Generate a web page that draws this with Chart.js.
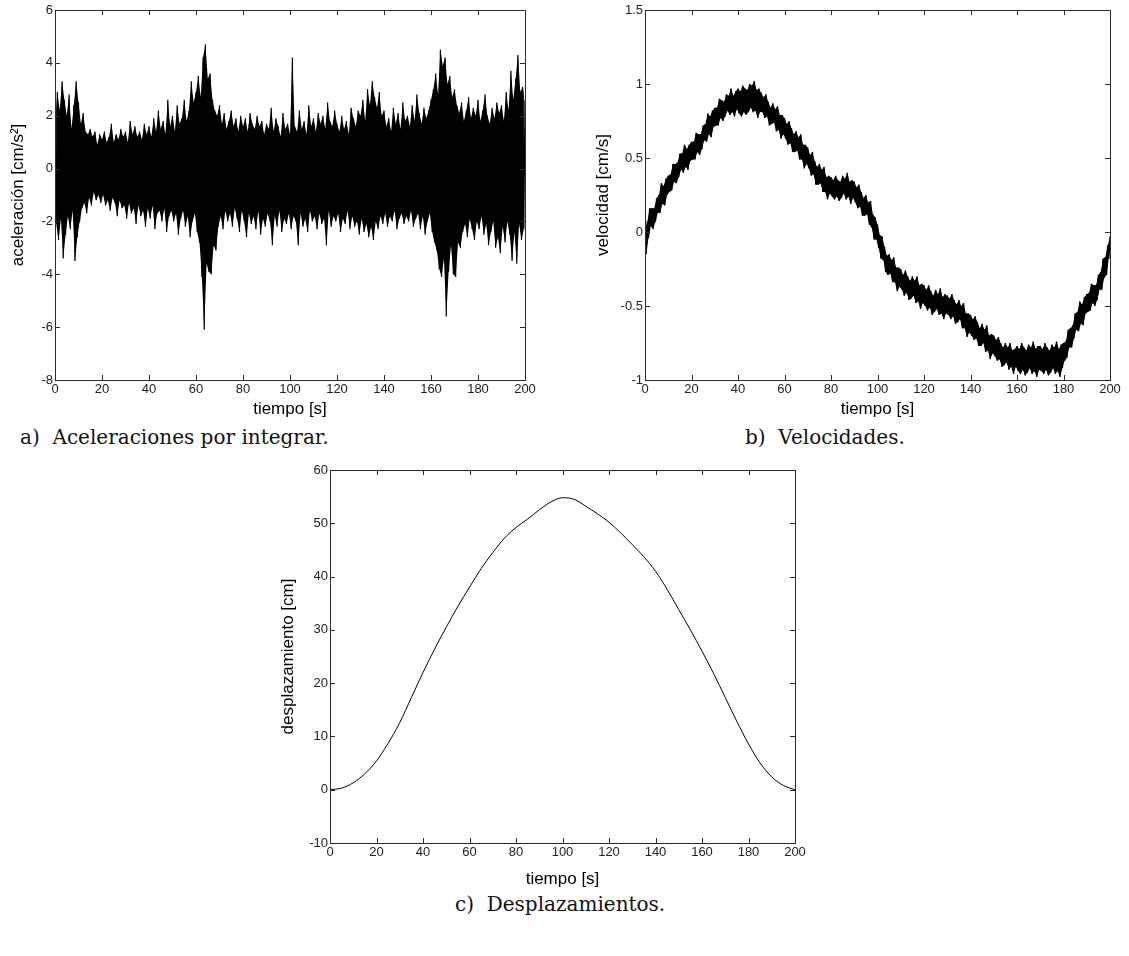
<!DOCTYPE html>
<html lang="es">
<head>
<meta charset="utf-8">
<title>Integración de aceleraciones</title>
<script src="https://cdn.jsdelivr.net/npm/chart.js@4/dist/chart.umd.min.js"></script>
<style>
  body { margin: 0; background: #fff; width: 1129px; height: 956px; position: relative; overflow: hidden; }
  canvas { position: absolute; }
  .pie { position: absolute; font-family: "DejaVu Serif", serif; font-size: 20px; color: #111; white-space: pre; }
</style>
</head>
<body>
<canvas id="graficaAcel" width="540" height="420" style="left:0;top:0"></canvas>
<canvas id="graficaVel" width="544" height="420" style="left:585px;top:0"></canvas>
<canvas id="graficaDesp" width="545" height="430" style="left:270px;top:460px"></canvas>
<div class="pie" style="left:20px;top:425px">a)  Aceleraciones por integrar.</div>
<div class="pie" style="left:745px;top:425px">b)  Velocidades.</div>
<div class="pie" style="left:455px;top:892px">c)  Desplazamientos.</div>
<script>
// aceleración: picos en t = 0,1,...,200 s y valles en t = 0.5,1.5,...,199.5 s [cm/s2]
const accPicos = [
  1.8, 2.9, 2.2, 3.3, 2.6, 2.0, 2.8, 1.5, 2.4, 3.3,
  2.5, 1.7, 2.1, 1.4, 1.3, 1.5, 1.2, 1.4, 0.9, 1.3,
  1.1, 1.4, 1.0, 1.2, 1.7, 1.0, 1.3, 1.1, 1.5, 1.2,
  1.4, 1.0, 1.8, 1.3, 1.6, 1.2, 1.4, 1.1, 1.7, 1.3,
  1.6, 1.2, 1.9, 1.4, 2.2, 1.5, 1.8, 1.3, 2.6, 1.6,
  2.0, 1.4, 2.4, 1.7, 1.9, 2.6, 1.8, 2.2, 3.3, 2.5,
  2.9, 3.5, 2.7, 4.2, 4.7, 3.4, 3.6, 2.6, 2.2, 2.0,
  2.4, 1.7, 2.1, 1.5, 1.8, 2.2, 1.6, 1.9, 1.4, 2.0,
  1.6, 1.9, 1.4, 2.1, 1.7, 1.5, 2.0, 1.6, 1.8, 1.3,
  1.7, 1.5, 2.3, 1.4, 1.9, 1.6, 1.2, 2.1, 1.5, 1.7,
  1.3, 4.2, 1.6, 1.4, 2.2, 1.5, 1.8, 1.3, 2.4, 1.6,
  1.9, 1.4, 2.1, 1.7, 2.0, 1.5, 2.5, 1.8, 1.6, 2.2,
  1.7, 1.4, 2.0, 1.5, 1.8, 1.3, 2.3, 1.9, 1.6, 2.2,
  2.0, 2.6, 1.8, 3.0, 2.4, 3.3, 2.7, 2.3, 2.9, 2.0,
  2.2, 1.6, 1.9, 1.4, 2.3, 1.7, 2.1, 1.5, 2.5, 1.8,
  2.0, 1.6, 2.4, 1.8, 2.8, 2.1, 1.7, 2.3, 1.9, 2.2,
  2.6, 3.0, 3.6, 2.8, 4.5, 3.9, 4.2, 3.2, 3.5, 2.7,
  3.0, 2.4, 2.1, 2.5, 1.8, 2.2, 2.7, 1.9, 2.3, 2.0,
  2.6, 1.8, 2.2, 2.8, 2.0, 1.7, 2.3, 1.9, 2.5, 2.1,
  2.4, 1.8, 2.9, 2.2, 3.7, 2.6, 3.4, 4.3, 2.9, 3.1,
  2.6
];
const accValles = [
  -2.1, -2.7, -1.9, -3.4, -2.5, -1.8, -2.3, -1.6, -3.5, -2.6,
  -2.0, -1.5, -1.3, -1.7, -1.1, -1.4, -0.9, -1.2, -1.0, -1.3,
  -1.0, -1.4, -1.2, -1.6, -1.1, -1.3, -1.8, -1.2, -1.5, -1.4,
  -1.9, -1.3, -1.7, -1.5, -2.1, -1.4, -1.8, -1.6, -2.2, -1.5,
  -1.9, -1.4, -2.3, -1.7, -1.6, -2.0, -1.5, -2.4, -1.8, -1.6,
  -2.0, -1.7, -2.5, -1.9, -1.6, -2.2, -1.8, -2.6, -2.0, -1.7,
  -2.4, -2.8, -4.1, -6.1, -3.6, -3.9, -4.0, -2.9, -3.1, -2.2,
  -1.8, -2.3, -1.6, -2.0, -1.7, -2.2, -1.5, -1.9, -2.4, -1.6,
  -2.0, -2.6, -1.7, -2.1, -1.8, -2.3, -1.6, -2.5, -1.9, -2.2,
  -1.7, -2.0, -2.9, -1.8, -2.2, -1.6, -2.4, -1.9, -2.1, -1.7,
  -2.3, -1.8, -2.0, -2.9, -1.7, -2.2, -1.9, -2.4, -1.6, -2.0,
  -1.8, -2.3, -1.7, -2.1, -1.9, -2.9, -1.6, -2.2, -1.8, -2.0,
  -1.7, -2.4, -1.9, -2.1, -1.6, -2.3, -1.8, -2.2, -2.0, -2.5,
  -1.9, -2.4, -2.1, -2.6, -2.2, -2.7, -2.0, -2.3, -1.8, -2.1,
  -1.7, -2.2, -1.8, -2.0, -1.6, -2.3, -1.9, -1.7, -2.1, -1.8,
  -2.0, -1.6, -2.2, -1.9, -1.7, -2.3, -1.8, -2.5, -2.0, -1.7,
  -2.4, -2.8, -3.1, -3.8, -4.1, -3.4, -5.6, -3.9, -2.9, -4.0,
  -4.1, -2.8, -3.0, -2.4, -2.1, -2.6, -1.9, -2.3, -2.7, -2.0,
  -2.3, -1.8, -2.5, -2.1, -2.9, -2.4, -2.0, -3.0, -2.6, -3.2,
  -2.2, -2.8, -2.0, -2.5, -3.5, -2.4, -3.6, -2.1, -2.7, -2.3
];

// velocidad: bordes superior (t entero) e inferior (t + 0.5) de la banda [cm/s]
const velSup = [
  0.02, 0.07, 0.16, 0.16, 0.16, 0.23, 0.25, 0.33, 0.31, 0.36,
  0.38, 0.39, 0.46, 0.46, 0.47, 0.53, 0.53, 0.59, 0.56, 0.59,
  0.61, 0.61, 0.67, 0.66, 0.66, 0.72, 0.73, 0.80, 0.78, 0.82,
  0.84, 0.84, 0.90, 0.89, 0.88, 0.93, 0.92, 0.97, 0.92, 0.95,
  0.97, 0.95, 0.99, 0.97, 0.96, 1.00, 0.99, 1.02, 0.96, 0.97,
  0.94, 0.91, 0.93, 0.88, 0.84, 0.87, 0.83, 0.85, 0.79, 0.79,
  0.77, 0.73, 0.75, 0.70, 0.66, 0.68, 0.64, 0.66, 0.59, 0.59,
  0.57, 0.52, 0.54, 0.48, 0.44, 0.46, 0.42, 0.44, 0.37, 0.38,
  0.37, 0.35, 0.38, 0.35, 0.34, 0.38, 0.36, 0.40, 0.34, 0.35,
  0.34, 0.30, 0.32, 0.27, 0.23, 0.25, 0.20, 0.21, 0.12, 0.10,
  0.05, -0.02, -0.03, -0.10, -0.16, -0.15, -0.19, -0.17, -0.24, -0.24,
  -0.25, -0.29, -0.26, -0.30, -0.33, -0.30, -0.33, -0.30, -0.36, -0.35,
  -0.36, -0.39, -0.36, -0.40, -0.43, -0.39, -0.42, -0.38, -0.44, -0.42,
  -0.43, -0.45, -0.42, -0.46, -0.49, -0.46, -0.50, -0.48, -0.55, -0.55,
  -0.56, -0.59, -0.57, -0.61, -0.65, -0.62, -0.66, -0.63, -0.70, -0.69,
  -0.70, -0.73, -0.71, -0.75, -0.78, -0.75, -0.78, -0.75, -0.80, -0.79,
  -0.77, -0.79, -0.75, -0.78, -0.80, -0.76, -0.78, -0.74, -0.79, -0.77,
  -0.77, -0.79, -0.75, -0.78, -0.80, -0.76, -0.78, -0.74, -0.79, -0.76,
  -0.75, -0.74, -0.66, -0.65, -0.63, -0.55, -0.54, -0.47, -0.49, -0.44,
  -0.42, -0.41, -0.35, -0.36, -0.36, -0.29, -0.27, -0.18, -0.17, -0.09,
  -0.03
];
const velInf = [
  -0.15, -0.04, 0.04, 0.02, 0.07, 0.13, 0.13, 0.19, 0.18, 0.25,
  0.27, 0.28, 0.34, 0.33, 0.37, 0.42, 0.40, 0.44, 0.42, 0.48,
  0.49, 0.49, 0.54, 0.52, 0.56, 0.62, 0.61, 0.66, 0.64, 0.71,
  0.72, 0.72, 0.77, 0.75, 0.78, 0.82, 0.79, 0.81, 0.78, 0.83,
  0.80, 0.78, 0.81, 0.79, 0.81, 0.84, 0.81, 0.82, 0.77, 0.81,
  0.81, 0.77, 0.78, 0.72, 0.73, 0.74, 0.68, 0.69, 0.63, 0.66,
  0.63, 0.59, 0.60, 0.54, 0.54, 0.55, 0.49, 0.49, 0.43, 0.46,
  0.43, 0.38, 0.39, 0.32, 0.32, 0.33, 0.27, 0.27, 0.22, 0.26,
  0.24, 0.22, 0.24, 0.21, 0.23, 0.26, 0.22, 0.24, 0.19, 0.23,
  0.20, 0.16, 0.17, 0.11, 0.11, 0.12, 0.05, 0.03, -0.05, -0.05,
  -0.11, -0.18, -0.19, -0.27, -0.29, -0.28, -0.34, -0.34, -0.40, -0.37,
  -0.39, -0.43, -0.41, -0.46, -0.45, -0.43, -0.48, -0.47, -0.52, -0.48,
  -0.50, -0.53, -0.51, -0.56, -0.54, -0.52, -0.56, -0.55, -0.59, -0.55,
  -0.56, -0.59, -0.57, -0.62, -0.61, -0.59, -0.65, -0.65, -0.71, -0.68,
  -0.70, -0.73, -0.72, -0.77, -0.77, -0.75, -0.81, -0.80, -0.86, -0.82,
  -0.84, -0.87, -0.86, -0.91, -0.90, -0.88, -0.93, -0.91, -0.96, -0.91,
  -0.94, -0.96, -0.93, -0.97, -0.95, -0.92, -0.96, -0.94, -0.98, -0.93,
  -0.94, -0.96, -0.93, -0.97, -0.95, -0.92, -0.96, -0.94, -0.98, -0.92,
  -0.87, -0.85, -0.78, -0.78, -0.72, -0.66, -0.67, -0.62, -0.63, -0.55,
  -0.54, -0.53, -0.48, -0.50, -0.46, -0.39, -0.39, -0.31, -0.29, -0.18
];

// desplazamiento cada 5 s [cm]
const tiempoDesp = [
  0, 5, 10, 15, 20, 25, 30, 35, 40, 45, 50, 55, 60, 65, 70, 75, 80, 85, 90, 95,
  100, 105, 110, 115, 120, 125, 130, 135, 140, 145, 150, 155, 160, 165, 170, 175, 180, 185, 190, 195, 200
];
const desp = [
  0, 0.3, 1.3, 3.0, 5.4, 8.7, 12.6, 17.3, 22.0, 26.4, 30.5, 34.4, 38.0, 41.5, 44.5, 47.2, 49.2, 50.8, 52.5, 54.0,
  54.8, 54.5, 53.2, 51.8, 50.2, 48.2, 46.0, 43.7, 41.0, 37.6, 33.8, 30.0, 26.0, 21.8, 17.3, 12.8, 8.6, 5.0, 2.4, 0.8, 0
];

const ticksTiempo = [0, 20, 40, 60, 80, 100, 120, 140, 160, 180, 200];
const fuenteEjes = '"Liberation Sans", Arial, sans-serif';

// une picos y valles alternados en una sola traza
function intercalar(sup, inf) {
  const pts = [];
  sup.forEach((v, i) => {
    pts.push({ x: i, y: v });
    if (i < inf.length) pts.push({ x: i + 0.5, y: inf[i] });
  });
  return pts;
}

// traza de la señal + banda rellena entre la envolvente de picos y la de valles
function senalConBanda(sup, inf, grosor) {
  const linea = { borderColor: '#000', pointRadius: 0, tension: 0 };
  return [
    { ...linea, data: intercalar(sup, inf), borderWidth: grosor, fill: false },
    { ...linea, data: sup.map((v, i) => ({ x: i, y: v })), borderWidth: 0, backgroundColor: '#000', fill: '+1' },
    { ...linea, data: inf.map((v, i) => ({ x: i + 0.5, y: v })), borderWidth: 0, fill: false }
  ];
}

// caja cerrada con marcas hacia dentro en los cuatro lados
const cajaEjes = {
  id: 'cajaEjes',
  afterDraw(chart) {
    const { ctx, chartArea: a, scales: { x, y } } = chart;
    const largo = 5;
    ctx.save();
    ctx.strokeStyle = '#2a2a2a';
    ctx.lineWidth = 1;
    ctx.strokeRect(Math.round(a.left) + 0.5, Math.round(a.top) + 0.5,
      Math.round(a.right - a.left), Math.round(a.bottom - a.top));
    ctx.beginPath();
    x.ticks.forEach(t => {
      const px = Math.round(x.getPixelForValue(t.value)) + 0.5;
      ctx.moveTo(px, a.bottom); ctx.lineTo(px, a.bottom - largo);
      ctx.moveTo(px, a.top); ctx.lineTo(px, a.top + largo);
    });
    y.ticks.forEach(t => {
      const py = Math.round(y.getPixelForValue(t.value)) + 0.5;
      ctx.moveTo(a.left, py); ctx.lineTo(a.left + largo, py);
      ctx.moveTo(a.right, py); ctx.lineTo(a.right - largo, py);
    });
    ctx.stroke();
    ctx.restore();
  }
};

function crearGrafica(id, datasets, ejeY, opc) {
  new Chart(document.getElementById(id), {
    type: 'line',
    data: { datasets },
    options: {
      responsive: false,
      animation: false,
      devicePixelRatio: 1,
      layout: { padding: { top: opc.arriba, right: opc.derecha, left: 0, bottom: 0 } },
      plugins: { legend: { display: false }, tooltip: { enabled: false } },
      scales: {
        x: {
          type: 'linear', min: 0, max: 200,
          afterBuildTicks: s => { s.ticks = ticksTiempo.map(v => ({ value: v })); },
          afterFit: s => { s.height = opc.altoX; },
          grid: { display: false, drawTicks: false },
          border: { display: false },
          ticks: { color: '#222', font: { family: fuenteEjes, size: 13 }, padding: 2, maxRotation: 0, autoSkip: false },
          title: { display: true, text: 'tiempo [s]', color: '#000', font: { family: fuenteEjes, size: 17 }, padding: 0 }
        },
        y: {
          type: 'linear', min: ejeY.min, max: ejeY.max,
          afterBuildTicks: s => { s.ticks = ejeY.ticks.map(v => ({ value: v })); },
          afterFit: s => { s.width = opc.anchoY; },
          grid: { display: false, drawTicks: false },
          border: { display: false },
          ticks: { color: '#222', font: { family: fuenteEjes, size: 13 }, padding: 2, autoSkip: false, callback: v => String(v) },
          title: { display: true, text: ejeY.titulo, color: '#000', font: { family: fuenteEjes, size: 17 }, padding: { top: 8, bottom: 0 } }
        }
      }
    },
    plugins: [cajaEjes]
  });
}

crearGrafica('graficaAcel', senalConBanda(accPicos, accValles, 1.2),
  { min: -8, max: 6, ticks: [-8, -6, -4, -2, 0, 2, 4, 6], titulo: 'aceleración [cm/s²]' },
  { arriba: 10, derecha: 15, anchoY: 55, altoX: 40 });

crearGrafica('graficaVel', senalConBanda(velSup, velInf, 1.4),
  { min: -1, max: 1.5, ticks: [-1, -0.5, 0, 0.5, 1, 1.5], titulo: 'velocidad [cm/s]' },
  { arriba: 10, derecha: 19, anchoY: 60, altoX: 40 });

crearGrafica('graficaDesp', [{
    data: tiempoDesp.map((t, i) => ({ x: t, y: desp[i] })),
    borderColor: '#000', borderWidth: 1, pointRadius: 0, cubicInterpolationMode: 'monotone', fill: false
  }],
  { min: -10, max: 60, ticks: [-10, 0, 10, 20, 30, 40, 50, 60], titulo: 'desplazamiento [cm]' },
  { arriba: 10, derecha: 20, anchoY: 60, altoX: 47 });
</script>
</body>
</html>
